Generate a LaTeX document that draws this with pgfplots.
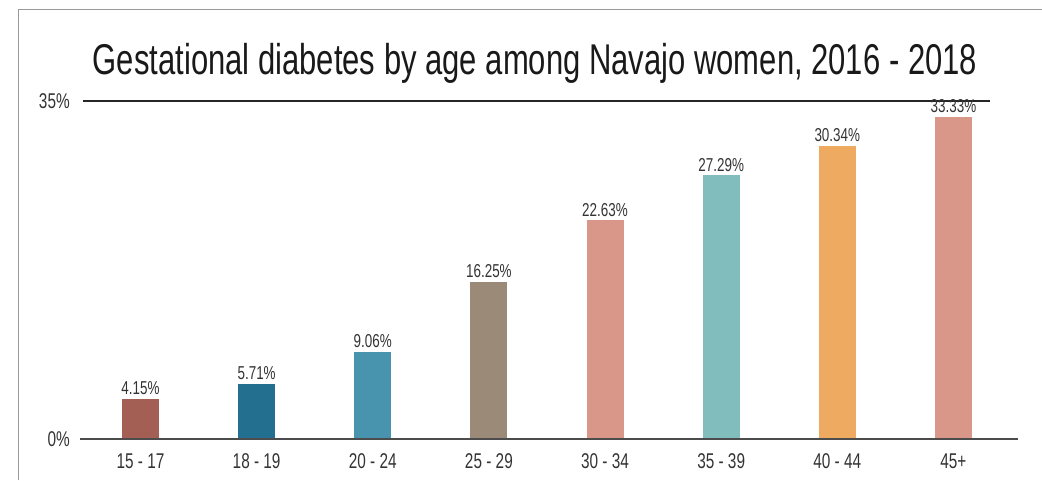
\documentclass[border=0pt]{standalone}
\usepackage{fontspec}
\setmainfont{Liberation Sans}[FakeStretch=0.72]
\usepackage{pgfplots}
\pgfplotsset{compat=1.18}
\definecolor{c1}{HTML}{A45F55}
\definecolor{c2}{HTML}{236F8F}
\definecolor{c3}{HTML}{4893AE}
\definecolor{c4}{HTML}{9B8A78}
\definecolor{c5}{HTML}{D9978A}
\definecolor{c6}{HTML}{82BDBD}
\definecolor{c7}{HTML}{EFAA62}
\definecolor{c8}{HTML}{D9978A}
\definecolor{txt}{HTML}{333333}
\begin{document}
\begin{tikzpicture}
\useasboundingbox (0,0) rectangle (781.5pt,360pt);
\draw[color=gray!80, line width=1.1pt] (13.9pt,0) -- (13.9pt,352.9pt) -- (781.5pt,352.9pt);
\node[font=\fontsize{32.3}{38}\selectfont, text=black!90] at (401.25pt,312.75pt) {Gestational diabetes by age among Navajo women, 2016 - 2018};
\begin{axis}[
  at={(60pt,30.75pt)}, anchor=south west,
  scale only axis, width=703.5pt, height=253.5pt,
  xmin=-0.521, xmax=7.556, ymin=0, ymax=35,
  axis x line=bottom, axis y line=left,
  x axis line style={-, color=black!70, line width=1pt},
  y axis line style={draw=none},
  major tick length=0pt,
  xtick={0,...,7},
  xticklabels={15 - 17, 18 - 19, 20 - 24, 25 - 29, 30 - 34, 35 - 39, 40 - 44, 45+},
  xticklabel style={font=\fontsize{16}{18}\selectfont, text=txt, inner sep=0pt, anchor=north, yshift=-11pt},
  ytick={0,35}, yticklabels={0\%, 35\%},
  yticklabel style={font=\fontsize{16}{18}\selectfont, text=txt, inner sep=0pt, anchor=east, xshift=-7.5pt},
  ybar, bar width=27.75pt, bar shift=0pt,
  axis on top,
  clip=false,
  /pgf/number format/assume math mode=true,
  nodes near coords={\pgfmathprintnumber[fixed,precision=2,fixed zerofill]{\pgfplotspointmeta}\%},
  every node near coord/.append style={font=\fontsize{14}{16}\selectfont, text=txt, inner sep=0pt, anchor=south, yshift=3pt},
]
\addplot[fill=c1, draw=none] coordinates {(0,4.15)};
\addplot[fill=c2, draw=none] coordinates {(1,5.71)};
\addplot[fill=c3, draw=none] coordinates {(2,9.06)};
\addplot[fill=c4, draw=none] coordinates {(3,16.25)};
\addplot[fill=c5, draw=none] coordinates {(4,22.63)};
\addplot[fill=c6, draw=none] coordinates {(5,27.29)};
\addplot[fill=c7, draw=none] coordinates {(6,30.34)};
\addplot[fill=c8, draw=none] coordinates {(7,33.33)};
\draw[color=black!85, line width=0.8pt] (axis cs:-0.495,35) -- (axis cs:7.313,35);
\end{axis}
\end{tikzpicture}
\end{document}
